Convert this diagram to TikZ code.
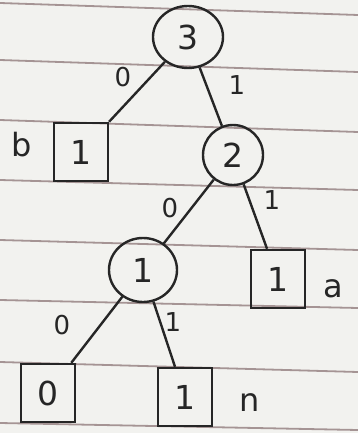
\documentclass[tikz,border=0pt]{standalone}
\usepackage{fontspec}
\setmainfont{DejaVu Sans}
\usetikzlibrary{shapes.geometric}
\begin{document}
\begin{tikzpicture}[x=1pt,y=-1pt,
  ink/.style={draw=black!85,line width=2.4pt},
  rule/.style={draw=rulecol,line width=1.8pt},
  big/.style={font=\fontsize{33}{33}\selectfont,text=black!85},
  leaf/.style={ink,big,rectangle,minimum width=54pt,minimum height=58pt,inner sep=0pt},
  lab/.style={font=\fontsize{32}{32}\selectfont,text=black!85,inner sep=0pt},
  edgelab/.style={font=\fontsize{26}{26}\selectfont,text=black!85,inner sep=0pt}]
\definecolor{rulecol}{RGB}{165,148,148}
\definecolor{paper}{RGB}{242,242,239}
\fill[paper] (0,0) rectangle (358,433);
\useasboundingbox (0,0) rectangle (358,433);
% ruled lines
\foreach \a/\b in {3/15,60/72,120/132,180/190,240/250,300/308,362/372,423/430}
  \draw[rule] (0,\a) -- (358,\b);
% nodes
\node[ink,big,ellipse,inner sep=0pt,minimum width=70pt,minimum height=62pt] (n3) at (188,37) {3};
\node[ink,big,circle,inner sep=0pt,minimum size=60pt] (n2) at (233,155) {2};
\node[ink,big,ellipse,inner sep=0pt,minimum width=68pt,minimum height=64pt] (n1) at (143,270) {1};
\node[leaf] (lb) at (81,152) {1};
\node[leaf] (la) at (278,279) {1};
\node[leaf] (l0) at (48,393) {0};
\node[leaf] (ln) at (185,397) {1};
% symbol labels
\node[lab] (tb) at (22,145) {b};
\node[lab] (ta) at (333,289) {a};
\node[lab] (tn) at (250,403) {n};
% edges
\draw[ink] (n3) -- (lb);
\draw[ink] (n3) -- (n2);
\draw[ink] (n2) -- (n1);
\draw[ink] (n2) -- (la);
\draw[ink] (n1) -- (l0);
\draw[ink] (n1) -- (ln);
% edge labels
\node[edgelab] (e1) at (123,77) {0};
\node[edgelab] (e2) at (237,85) {1};
\node[edgelab] (e3) at (170,208) {0};
\node[edgelab] (e4) at (272,200) {1};
\node[edgelab] (e5) at (62,325) {0};
\node[edgelab] (e6) at (173,322) {1};
\end{tikzpicture}
\end{document}
